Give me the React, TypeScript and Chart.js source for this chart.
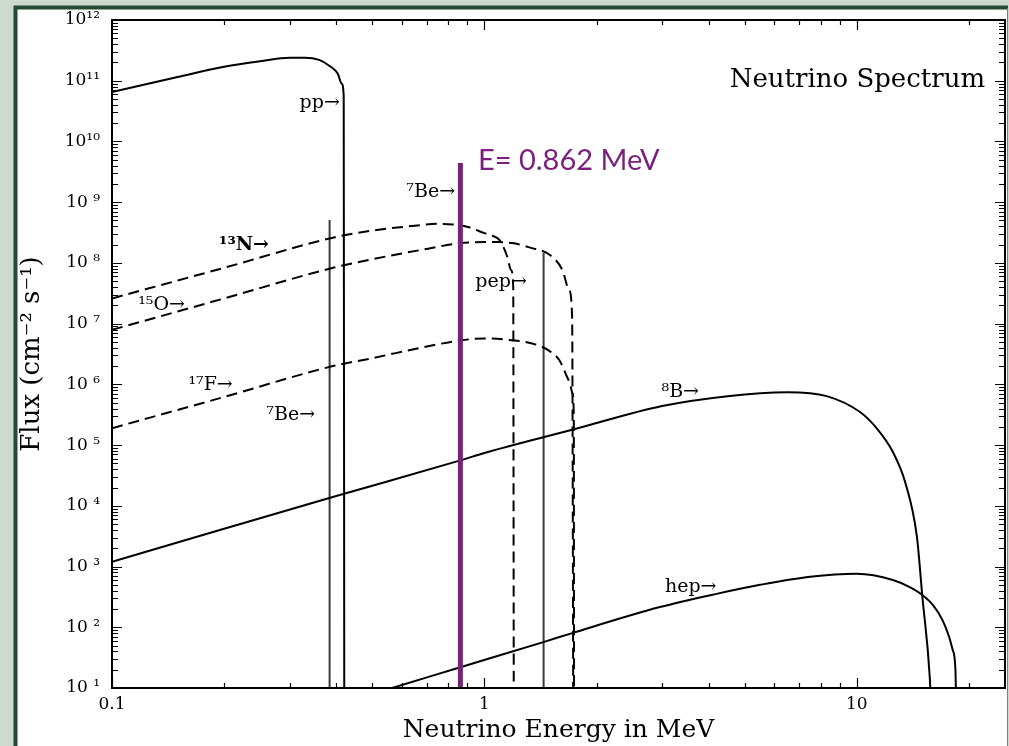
import React, { useEffect, useRef } from "react";
import { Chart, registerables } from "chart.js";

Chart.register(...registerables);

// ---------- data ----------
const ppEnergy = [0.1, 0.15, 0.2, 0.25, 0.3, 0.33, 0.36, 0.384, 0.404, 0.414, 0.419, 0.4205];
const ppFlux = [6.5e10, 1.15e11, 1.7e11, 2.1e11, 2.4e11, 2.4e11, 2.2e11, 1.75e11, 1.3e11, 8.9e10, 5.6e10, 1];

const n13Energy = [0.1, 0.2, 0.392, 0.5, 0.65, 0.75, 0.82, 0.903, 1.0, 1.05, 1.1, 1.15, 1.18, 1.195, 1.1995];
const n13Flux = [2.6e7, 8.3e7, 2.6e8, 3.4e8, 4.1e8, 4.4e8, 4.3e8, 3.9e8, 3.1e8, 2.8e8, 2.35e8, 1.3e8, 7.6e7, 4e7, 1];

const o15Energy = [0.1, 0.2, 0.392, 0.5, 0.7, 0.862, 1.0, 1.1, 1.2, 1.32, 1.5, 1.62, 1.69, 1.72, 1.733];
const o15Flux = [7.9e6, 2.6e7, 8.3e7, 1.15e8, 1.7e8, 2.12e8, 2.2e8, 2.2e8, 2.1e8, 1.8e8, 1.35e8, 7.6e7, 3.5e7, 1.3e7, 1];

const f17Energy = [0.1, 0.2, 0.392, 0.5, 0.7, 0.862, 1.0, 1.17, 1.38, 1.5, 1.59, 1.66, 1.7, 1.725, 1.738, 1.741];
const f17Flux = [1.9e5, 6.2e5, 2.0e6, 2.7e6, 4.2e6, 5.3e6, 5.7e6, 5.4e6, 4.5e6, 3.5e6, 2.5e6, 1.4e6, 1.0e6, 7e5, 3e5, 1];

const b8Energy = [0.1, 0.2, 0.4, 0.862, 1.0, 1.73, 3.0, 4.5, 6.5, 8.3, 10.2, 11.3, 12.5, 13.5, 14.5, 15.0, 15.7, 16.0];
const b8Flux = [1.2e3, 4.2e3, 1.45e4, 5.6e4, 7.4e4, 1.8e5, 4.4e5, 6.4e5, 7.4e5, 6.4e5, 3.5e5, 1.9e5, 7.7e4, 2.4e4, 3.1e3, 316, 15, 1];

const hepEnergy = [0.5, 0.565, 0.862, 1.44, 1.73, 2.96, 4.2, 5.5, 7.5, 10, 12.5, 14, 15, 16, 17, 17.7, 18.1, 18.4, 18.55];
const hepFlux = [8, 10, 22, 57, 81, 215, 355, 500, 680, 760, 600, 446, 340, 233, 130, 69, 42, 20, 1];

// line sources: [energy, flux at top]
const be7LowEnergy = [0.384, 0.384];
const be7LowFlux = [1, 5.1e8];
const pepEnergy = [1.442, 1.442];
const pepFlux = [1, 1.45e8];
const markerEnergy = [0.862, 0.862];
const markerFlux = [1, 4.4e9];

const xTickValues = [0.1, 1, 10];
const xTickLabels = ["0.1", "1", "10"];
const yTickValues = [1e1, 1e2, 1e3, 1e4, 1e5, 1e6, 1e7, 1e8, 1e9, 1e10, 1e11, 1e12];
const yTickLabels = ["10 ¹", "10 ²", "10 ³", "10 ⁴", "10 ⁵", "10 ⁶", "10 ⁷", "10 ⁸", "10 ⁹", "10¹⁰", "10¹¹", "10¹²"];

const X_MIN = 0.1;
const X_MAX = 25;
const Y_MIN = 10;
const Y_MAX = 1e12;

// text annotations anchored in data coordinates
const notes = [
  { text: "pp→", e: 0.409, f: 4.3e10, bold: false },
  { text: "⁷Be→", e: 0.834, f: 1.48e9, bold: false },
  { text: "¹³N→", e: 0.264, f: 1.95e8, bold: true },
  { text: "¹⁵O→", e: 0.157, f: 2.0e7, bold: false },
  { text: "¹⁷F→", e: 0.211, f: 9.8e5, bold: false },
  { text: "⁷Be→", e: 0.351, f: 3.1e5, bold: false },
  { text: "pep→", e: 1.3, f: 4.9e7, bold: false },
  { text: "⁸B→", e: 3.77, f: 7.4e5, bold: false },
  { text: "hep→", e: 4.2, f: 457, bold: false },
];
const titleNote = { text: "Neutrino Spectrum", e: 22.1, f: 1e11 };
const markerNote = { text: "E= 0.862 MeV", e: 0.961, f: 4.8e9 };

const SERIF = "'DejaVu Serif', serif";
const PURPLE = "#7b1f7d";

function series(label: string, E: number[], F: number[], extra: any = {}) {
  return {
    label,
    data: E.map((e, i) => ({ x: e, y: F[i] })),
    borderColor: "#000",
    borderWidth: 2,
    pointRadius: 0,
    fill: false,
    cubicInterpolationMode: "monotone",
    clip: 0,
    ...extra,
  };
}

const decorPlugin = {
  id: "decor",
  beforeDraw(chart: any) {
    const { ctx, width, height } = chart;
    ctx.save();
    ctx.fillStyle = "#cfdacf";
    ctx.fillRect(0, 0, width, height);
    ctx.fillStyle = "#ffffff";
    ctx.fillRect(16, 8, 1007 - 16, height - 8);
    ctx.strokeStyle = "#244a32";
    ctx.lineWidth = 4;
    ctx.beginPath();
    ctx.moveTo(15.5, height + 4);
    ctx.lineTo(15.5, 7.5);
    ctx.lineTo(1008, 7.5);
    ctx.stroke();
    ctx.lineWidth = 1;
    ctx.strokeStyle = "#6b8a72";
    ctx.beginPath();
    ctx.moveTo(1007.5, 8);
    ctx.lineTo(1007.5, height);
    ctx.stroke();
    ctx.restore();
  },
  afterDraw(chart: any) {
    const { ctx } = chart;
    const { left, right, top, bottom } = chart.chartArea;
    const xs = chart.scales.x;
    const ys = chart.scales.y;
    ctx.save();
    ctx.strokeStyle = "#000";
    ctx.lineWidth = 2;
    ctx.strokeRect(left, top, right - left, bottom - top);
    ctx.lineWidth = 1.2;
    ctx.beginPath();
    for (let k = -1; k <= 2; k++) {
      for (let m = 1; m <= 9; m++) {
        const v = m * Math.pow(10, k);
        if (v < X_MIN * 0.999 || v > X_MAX) continue;
        const px = Math.round(xs.getPixelForValue(v)) + 0.5;
        const len = m === 1 ? 10 : 5;
        ctx.moveTo(px, bottom);
        ctx.lineTo(px, bottom - len);
        ctx.moveTo(px, top);
        ctx.lineTo(px, top + len);
      }
    }
    for (let k = 1; k <= 12; k++) {
      for (let m = 1; m <= 9; m++) {
        const v = m * Math.pow(10, k);
        if (v > Y_MAX * 1.001) continue;
        const py = Math.round(ys.getPixelForValue(v)) + 0.5;
        const len = m === 1 ? 10 : 6;
        ctx.moveTo(left, py);
        ctx.lineTo(left + len, py);
        ctx.moveTo(right, py);
        ctx.lineTo(right - len, py);
      }
    }
    ctx.stroke();

    ctx.fillStyle = "#000";
    ctx.textBaseline = "middle";
    ctx.textAlign = "right";
    for (const n of notes) {
      ctx.font = `${n.bold ? "bold " : ""}19px ${SERIF}`;
      ctx.fillText(n.text, xs.getPixelForValue(n.e), ys.getPixelForValue(n.f));
    }
    ctx.font = `26px ${SERIF}`;
    ctx.fillText(titleNote.text, xs.getPixelForValue(titleNote.e), ys.getPixelForValue(titleNote.f));

    ctx.fillStyle = PURPLE;
    ctx.font = `29px Lato, 'Open Sans', sans-serif`;
    ctx.textAlign = "left";
    ctx.fillText(markerNote.text, xs.getPixelForValue(markerNote.e), ys.getPixelForValue(markerNote.f));
    ctx.restore();
  },
};

export default function App() {
  const ref = useRef<HTMLCanvasElement>(null);
  useEffect(() => {
    const dashed = { borderDash: [11, 6] };
    const lineStyle = { borderColor: "#3a3a3a", borderWidth: 2, cubicInterpolationMode: "default", tension: 0 };
    const chart = new Chart(ref.current as HTMLCanvasElement, {
      type: "line",
      data: {
        datasets: [
          series("E = 0.862 MeV", markerEnergy, markerFlux, { borderColor: PURPLE, borderWidth: 5, order: -1, tension: 0, cubicInterpolationMode: "default" }),
          series("pp", ppEnergy, ppFlux),
          series("13N", n13Energy, n13Flux, dashed),
          series("15O", o15Energy, o15Flux, dashed),
          series("17F", f17Energy, f17Flux, dashed),
          series("8B", b8Energy, b8Flux),
          series("hep", hepEnergy, hepFlux),
          series("7Be 0.384", be7LowEnergy, be7LowFlux, lineStyle),
          series("pep", pepEnergy, pepFlux, lineStyle),
        ] as any,
      },
      options: {
        animation: false,
        responsive: false,
        devicePixelRatio: 1,
        layout: { padding: { top: 20, right: 4, left: 0, bottom: 0 } },
        plugins: { legend: { display: false }, tooltip: { enabled: false } },
        events: [],
        scales: {
          x: {
            type: "logarithmic",
            min: X_MIN,
            max: X_MAX,
            afterBuildTicks: (s: any) => {
              s.ticks = xTickValues.map((v) => ({ value: v }));
            },
            afterFit: (s: any) => {
              s.height = 58;
              s.paddingLeft = 0;
              s.paddingRight = 0;
            },
            ticks: {
              autoSkip: false,
              maxRotation: 0,
              padding: 6,
              color: "#000",
              font: { family: SERIF, size: 17 },
              callback: (_v: any, i: number) => xTickLabels[i],
            },
            grid: { display: false, drawTicks: false },
            border: { display: false },
            title: {
              display: true,
              text: "Neutrino Energy in MeV",
              color: "#000",
              font: { family: SERIF, size: 25 },
              padding: { top: 0, bottom: 1 },
            },
          },
          y: {
            type: "logarithmic",
            min: Y_MIN,
            max: Y_MAX,
            afterBuildTicks: (s: any) => {
              s.ticks = yTickValues.map((v) => ({ value: v }));
            },
            afterFit: (s: any) => {
              s.width = 112;
              s.paddingTop = 0;
              s.paddingBottom = 0;
            },
            ticks: {
              autoSkip: false,
              padding: 12,
              color: "#000",
              font: { family: SERIF, size: 17 },
              callback: (_v: any, i: number) => yTickLabels[i],
            },
            grid: { display: false, drawTicks: false },
            border: { display: false },
            title: {
              display: true,
              text: "Flux (cm⁻² s⁻¹)",
              color: "#000",
              font: { family: SERIF, size: 26 },
              padding: { top: 17, bottom: 0 },
            },
          },
        },
      } as any,
      plugins: [decorPlugin],
    });
    return () => chart.destroy();
  }, []);
  return (
    <div style={{ position: "absolute", left: 0, top: 0, width: 1009, height: 746 }}>
      <canvas ref={ref} width={1009} height={746} style={{ display: "block" }} />
    </div>
  );
}
